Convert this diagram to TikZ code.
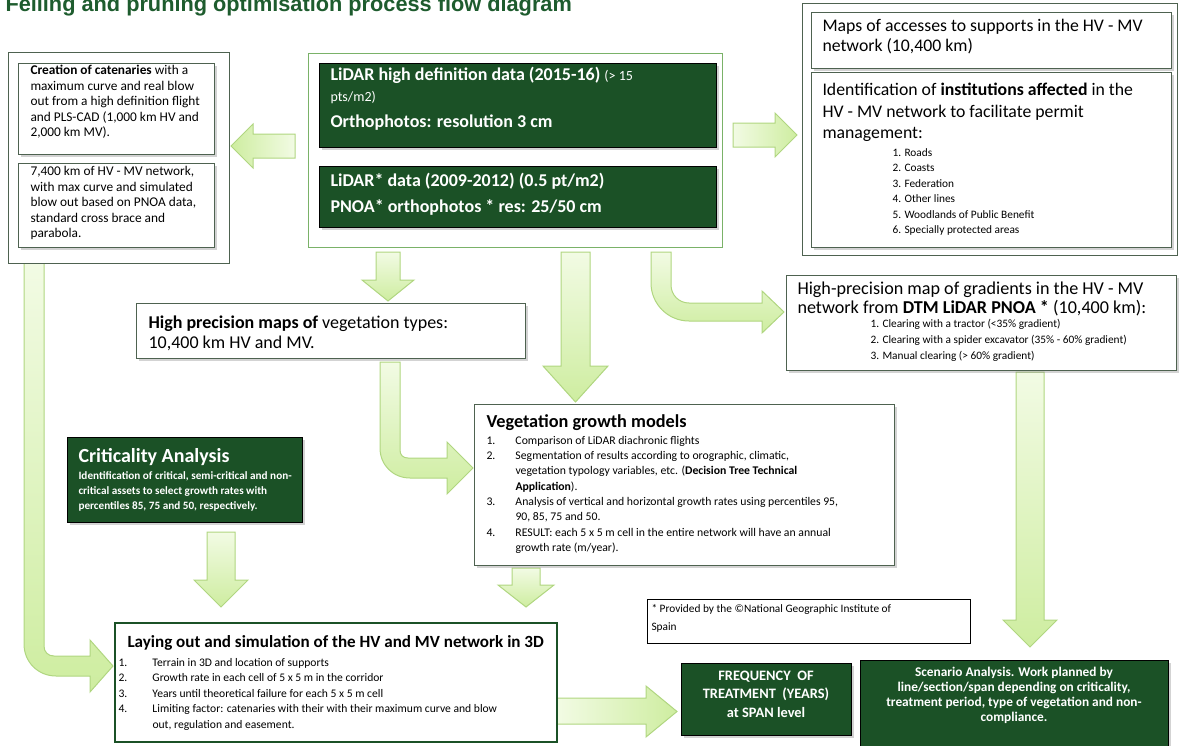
\documentclass[tikz,border=0pt]{standalone}
\usepackage{fontspec}
\setmainfont{Carlito}
\newfontfamily\titlefont{Liberation Sans}
\usetikzlibrary{shadows}

\definecolor{leafdark}{RGB}{27,81,38}
\definecolor{titlegreen}{RGB}{30,92,46}
\definecolor{framegray}{RGB}{78,98,80}
\definecolor{framegreen}{RGB}{122,178,104}
\definecolor{arrowfill}{RGB}{206,237,160}
\definecolor{arrowlight}{RGB}{242,251,228}
\definecolor{arrowline}{RGB}{176,214,128}

\tikzset{every picture/.style={line width=0.75pt}}
\tikzset{
	panel/.style={draw=framegray, fill=white},
	card/.style={draw=framegray, fill=white, drop shadow={opacity=0.35, shadow xshift=2.2pt, shadow yshift=-2.2pt}},
	darkcard/.style={fill=leafdark, drop shadow={opacity=0.35, shadow xshift=2.2pt, shadow yshift=-2.2pt}},
	vblock/.style={draw=arrowline, top color=arrowlight, bottom color=arrowfill},
	hblock/.style={draw=arrowline, left color=arrowlight, right color=arrowfill},
	txt/.style={anchor=north west, inner sep=0pt},
	txtblock/.style={txt, align=left}}

\begin{document}
\begin{tikzpicture}[x=0.75pt,y=0.75pt,yscale=-1,xscale=1]
	\useasboundingbox (0,0) rectangle (1179,746);
	
	% Title
	\node (title) [anchor=base west, inner sep=0pt, text=titlegreen, font=\titlefont\bfseries\fontsize{16.3}{19}\selectfont] at (5,12) {Felling and pruning optimisation process flow diagram};
	
	%Shape: Left Arrow
	\draw [hblock, left color=arrowfill, right color=arrowlight] (295,134) -- (253,134) -- (253,124) -- (231,146) -- (253,168) -- (253,158) -- (295,158) -- cycle ;
	%Shape: Right Arrow
	\draw [hblock] (733,123) -- (775,123) -- (775,113) -- (797,135) -- (775,157) -- (775,147) -- (733,147) -- cycle ;
	%Shape: Down Arrow
	\draw [vblock] (376,252) -- (400,252) -- (400,280) -- (414,280) -- (388,301) -- (362,280) -- (376,280) -- cycle ;
	%Shape: Down Arrow
	\draw [vblock] (561,252) -- (590,252) -- (590,366) -- (608,366) -- (575.5,402) -- (543,366) -- (561,366) -- cycle ;
	%Shape: Bent Arrow
	\draw [vblock] (651,252) -- (651,283) .. controls (651,304) and (668,321) .. (689,321) -- (762,321) -- (762,333) -- (784,312) -- (762,291) -- (762,303) -- (689,303) .. controls (679,303) and (671,295) .. (671,285) -- (671,252) -- cycle ;
	%Shape: Bent Arrow
	\draw [vblock] (380,362) -- (380,448) .. controls (380,465) and (393,478) .. (410,478) -- (447,478) -- (447,494) -- (473,468) -- (447,442) -- (447,458) -- (408,458) .. controls (403,458) and (400,455) .. (400,450) -- (400,362) -- cycle ;
	%Shape: Down Arrow
	\draw [vblock] (207,532) -- (235,532) -- (235,580) -- (248,580) -- (221,607) -- (194,580) -- (207,580) -- cycle ;
	%Shape: Down Arrow
	\draw [vblock] (512,568) -- (540,568) -- (540,585) -- (554,585) -- (526,607) -- (498,585) -- (512,585) -- cycle ;
	%Shape: Bent Arrow
	\draw [vblock] (24,263) -- (24,644) .. controls (24,662) and (38,676) .. (56,676) -- (90,676) -- (90,692) -- (113,666) -- (90,640) -- (90,656) -- (54,656) .. controls (48,656) and (44,652) .. (44,646) -- (44,263) -- cycle ;
	%Shape: Right Arrow
	\draw [hblock] (557,698) -- (646,698) -- (646,686) -- (677,711.5) -- (646,737) -- (646,724) -- (557,724) -- cycle ;
	%Shape: Down Arrow
	\draw [vblock] (1016,372) -- (1044,372) -- (1044,620) -- (1057,620) -- (1030,647) -- (1003,620) -- (1016,620) -- cycle ;
	
	%Shape: Rectangle
	\draw [panel] (8,52) rectangle (229,263) ;
	\draw [card] (18,63) rectangle (214,154) ;
	\draw [card] (18,163) rectangle (214,247) ;
	%Shape: Rectangle
	\draw [draw=framegreen, fill=white] (308,53) rectangle (722,247) ;
	\draw [darkcard] (319,63) rectangle (716,147) ;
	\draw [darkcard] (319,166) rectangle (716,227) ;
	%Shape: Rectangle
	\draw [panel] (802,3) rectangle (1177,255) ;
	\draw [card] (811,12) rectangle (1171,68) ;
	\draw [card] (811,72) rectangle (1171,247) ;
	%Shape: Rectangle
	\draw [card] (786,275) rectangle (1176,370) ;
	\draw [card] (136,303) rectangle (525,358) ;
	\draw [darkcard] (67,437) rectangle (302,522) ;
	\draw [card] (474,404) rectangle (894,565) ;
	\draw [line width=1.6pt, draw=leafdark, fill=white] (115,623) rectangle (557,742) ;
	\draw [line width=0.6pt, fill=white] (647,599) rectangle (970,643) ;
	\draw [darkcard] (681,663) rectangle (851,735) ;
	\draw [darkcard] (860,660) rectangle (1168,748) ;
	
	% Text Node
	\node (catenary) [txtblock, font=\fontsize{10}{11.6}\selectfont] at (30,65) {\textbf{Creation of catenaries} with a\\ maximum curve and real blow\\ out from a high definition flight\\ and PLS-CAD (1,000 km HV and\\ 2,000 km MV).};
	% Text Node
	\node (simulated) [txtblock, font=\fontsize{10}{11.6}\selectfont] at (30,166) {7,400 km of HV - MV network,\\ with max curve and simulated\\ blow out based on PNOA data,\\ standard cross brace and\\ parabola.};
	% Text Node
	\node (lidarhd) [txtblock, text=white, font=\fontsize{13.5}{15.5}\selectfont] at (330,67) {\textbf{LiDAR high definition data (2015-16)} {\fontsize{10.5}{15.5}\selectfont(> 15}\\ {\fontsize{10.5}{15.5}\selectfont pts/m2)}\\[4pt] \textbf{Orthophotos: resolution 3 cm}};
	% Text Node
	\node (lidarpnoa) [txtblock, text=white, font=\bfseries\fontsize{13.5}{19.5}\selectfont] at (330,173) {LiDAR* data (2009-2012) (0.5 pt/m2)\\ PNOA* orthophotos * res: 25/50 cm};
	% Text Node
	\node (access) [txtblock, font=\fontsize{13.3}{15}\selectfont] at (822,19) {Maps of accesses to supports in the HV - MV\\ network (10,400 km)};
	% Text Node
	\node (institutions) [txtblock, font=\fontsize{13.3}{16}\selectfont] at (822,83) {Identification of \textbf{institutions affected} in the\\ HV - MV network to facilitate permit\\ management:};
	% Text Node
	\node (permits) [txtblock, font=\fontsize{8.5}{11.6}\selectfont] at (892,148) {1. Roads\\ 2. Coasts\\ 3. Federation\\ 4. Other lines\\ 5. Woodlands of Public Benefit\\ 6. Specially protected areas};
	% Text Node
	\node (gradient) [txtblock, font=\fontsize{13.6}{14.6}\selectfont] at (797,281) {High-precision map of gradients in the HV - MV\\ network from \textbf{DTM LiDAR PNOA *} (10,400 km):};
	% Text Node
	\node (clearing) [txtblock, font=\fontsize{8.5}{12}\selectfont] at (870,319) {1. Clearing with a tractor (<35\% gradient)\\ 2. Clearing with a spider excavator (35\% - 60\% gradient)\\ 3. Manual clearing (> 60\% gradient)};
	% Text Node
	\node (vegmaps) [txtblock, font=\fontsize{13.5}{15}\selectfont] at (148,315) {\textbf{High precision maps of} vegetation types:\\ 10,400 km HV and MV.};
	% Text Node
	\node (critical) [txt, text=white, font=\bfseries\fontsize{15}{18}\selectfont] at (78,448) {Criticality Analysis};
	% Text Node
	\node (criticalnote) [txtblock, text=white, font=\bfseries\fontsize{8.4}{11.25}\selectfont] at (78,471) {Identification of critical, semi-critical and non-\\ critical assets to select growth rates with\\ percentiles 85, 75 and 50, respectively.};
	% Text Node
	\node (growth) [txt, font=\bfseries\fontsize{13.7}{16}\selectfont] at (486,414) {Vegetation growth models};
	% Text Node
	\node (growthsteps) [txt, font=\fontsize{8.8}{11.5}\selectfont] at (486,433) {\begin{tabular}{@{}p{21.75pt}@{}l@{}}
		1. & Comparison of LiDAR diachronic flights\\
		2. & Segmentation of results according to orographic, climatic,\\
		& vegetation typology variables, etc. (\textbf{Decision Tree Technical}\\
		& \textbf{Application}).\\
		3. & Analysis of vertical and horizontal growth rates using percentiles 95,\\
		& 90, 85, 75 and 50.\\
		4. & RESULT: each 5 x 5 m cell in the entire network will have an annual\\
		& growth rate (m/year).
	\end{tabular}};
	% Text Node
	\node (layout) [txt, font=\bfseries\fontsize{12.8}{15}\selectfont] at (127,635) {Laying out and simulation of the HV and MV network in 3D};
	% Text Node
	\node (layoutsteps) [txt, font=\fontsize{8.7}{11.6}\selectfont] at (118,655) {\begin{tabular}{@{}p{25.5pt}@{}l@{}}
		1. & Terrain in 3D and location of supports\\
		2. & Growth rate in each cell of 5 x 5 m in the corridor\\
		3. & Years until theoretical failure for each 5 x 5 m cell\\
		4. & Limiting factor: catenaries with their with their maximum curve and blow\\
		& out, regulation and easement.
	\end{tabular}};
	% Text Node
	\node (footnote) [txtblock, font=\fontsize{8.5}{13.5}\selectfont] at (651,604) {* Provided by the ©National Geographic Institute of\\ Spain};
	% Text Node
	\node (frequency) [inner sep=0pt, align=center, text=white, font=\bfseries\fontsize{10.8}{13.9}\selectfont] at (766,694) {FREQUENCY\ \ OF\\ TREATMENT\ \ (YEARS)\\ at SPAN level};
	% Text Node
	\node (scenario) [inner sep=0pt, align=center, text=white, font=\bfseries\fontsize{10}{11.3}\selectfont] at (1014,695) {Scenario Analysis. Work planned by\\ line/section/span depending on criticality,\\ treatment period, type of vegetation and non-\\ compliance.};
	
\end{tikzpicture}
\end{document}
